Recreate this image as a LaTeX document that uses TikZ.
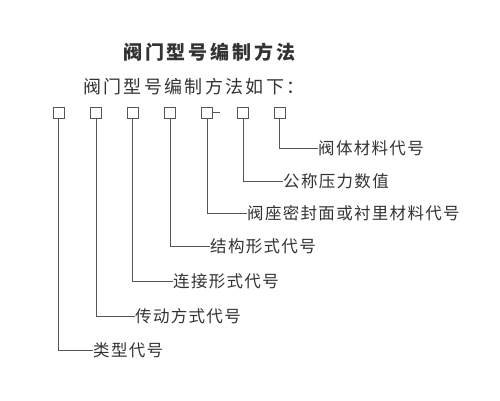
\documentclass[tikz,border=0pt]{standalone}
\usepackage{fontspec}
\newfontfamily\cjklab[LetterSpace=8]{Noto Sans CJK SC}
\newfontfamily\cjksub[LetterSpace=13]{Noto Sans CJK SC}
\newfontfamily\cjktitle[LetterSpace=15]{Noto Sans CJK SC}
\definecolor{ink}{HTML}{333333}
\definecolor{ln}{HTML}{555555}
\tikzset{
  box/.style={draw=ln, line width=0.8pt, minimum size=11pt, inner sep=0pt},
  lab/.style={anchor=west, inner sep=0pt, text=ink, font=\cjklab\fontsize{16.5}{18}\selectfont},
  conn/.style={draw=ln, line width=0.8pt},
}
\begin{document}
\begin{tikzpicture}[x=1pt,y=-1pt]
\useasboundingbox[fill=white] (0,0) rectangle (500,400);
\node[anchor=west, inner sep=0pt, text=ink, font=\cjktitle\bfseries\fontsize{19}{21}\selectfont] (title) at (123,52) {阀门型号编制方法};
\node[anchor=west, inner sep=0pt, text=ink, font=\cjksub\fontsize{18}{20}\selectfont] (sub) at (83,87) {阀门型号编制方法如下：};
\node[box] (b1) at (58.5,112.5) {};
\node[box] (b2) at (96,112.5) {};
\node[box] (b3) at (132.5,112.5) {};
\node[box] (b4) at (170,112.5) {};
\node[box] (b5) at (207,112.5) {};
\node[box] (b6) at (243,112.5) {};
\node[box] (b7) at (279.5,112.5) {};
\coordinate (d1) at (220,112.5);
\draw[conn] (b5.east) -- (d1);
\node[lab] (l1) at (93,350) {类型代号};
\node[lab] (l2) at (135,316) {传动方式代号};
\node[lab] (l3) at (173,281) {连接形式代号};
\node[lab] (l4) at (210,246) {结构形式代号};
\node[lab] (l5) at (247,213) {阀座密封面或衬里材料代号};
\node[lab] (l6) at (283,181) {公称压力数值};
\node[lab] (l7) at (318,148) {阀体材料代号};
\foreach \i in {1,...,7} {
  \draw[conn] (b\i.south) |- (l\i.west);
}
\end{tikzpicture}
\end{document}
